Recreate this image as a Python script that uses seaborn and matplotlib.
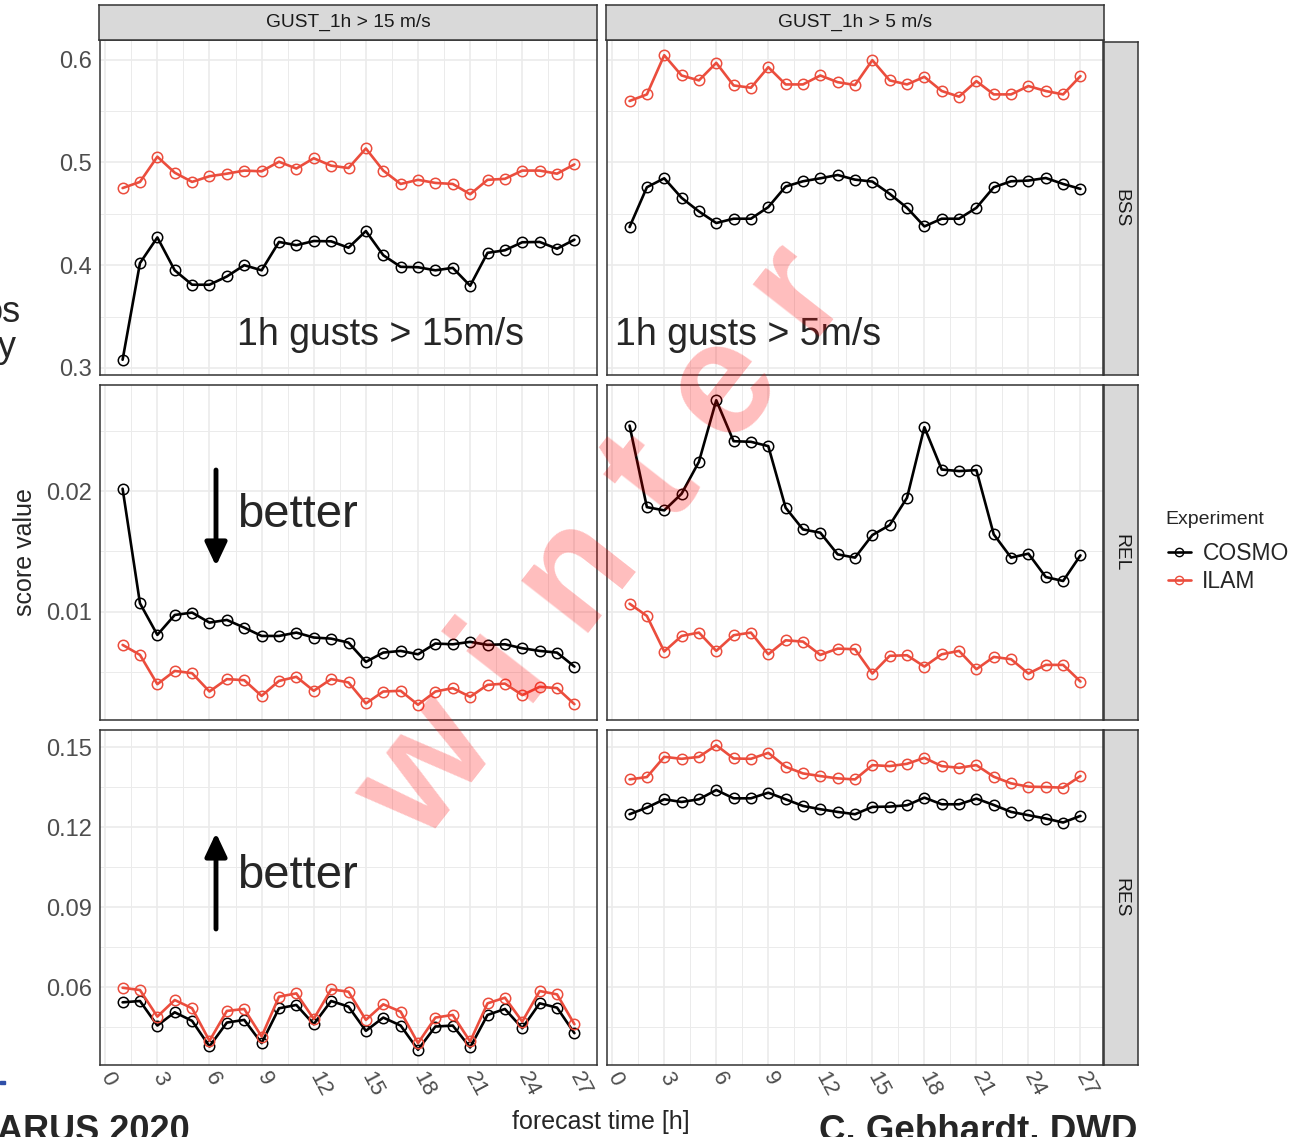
import numpy as np
import pandas as pd
import matplotlib
matplotlib.use("Agg")
import matplotlib.pyplot as plt
from matplotlib.lines import Line2D
from matplotlib.patches import Rectangle, FancyArrowPatch
from matplotlib.ticker import MultipleLocator, FormatStrFormatter
import seaborn as sns

# ===============================
# data
# ===============================
hours = list(range(1, 28))
experiments = ["COSMO", "ILAM"]
thresholds = ["GUST_1h > 15 m/s", "GUST_1h > 5 m/s"]
scores = ["BSS", "REL", "RES"]

bss_15_cosmo = [0.308, 0.402, 0.427, 0.395, 0.381, 0.381, 0.389, 0.400, 0.395, 0.4226,
                0.4194, 0.4235, 0.4232, 0.417, 0.4332, 0.4097, 0.3984, 0.398, 0.395, 0.3974,
                0.380, 0.412, 0.4145, 0.4223, 0.4226, 0.416, 0.4248]
bss_15_ilam = [0.475, 0.481, 0.5055, 0.490, 0.481, 0.4865, 0.489, 0.492, 0.4913, 0.5006,
               0.494, 0.504, 0.4968, 0.4945, 0.5135, 0.492, 0.479, 0.483, 0.480, 0.479,
               0.469, 0.483, 0.484, 0.492, 0.492, 0.489, 0.498]
bss_5_cosmo = [0.4371, 0.4758, 0.4845, 0.4655, 0.4523, 0.441, 0.4452, 0.4452, 0.4565, 0.4765,
               0.4816, 0.4845, 0.4877, 0.4832, 0.4813, 0.4694, 0.4558, 0.4377, 0.4452, 0.4452,
               0.4558, 0.4758, 0.4816, 0.4823, 0.4848, 0.479, 0.4742]
bss_5_ilam = [0.5597, 0.5661, 0.6042, 0.5845, 0.5797, 0.5968, 0.5748, 0.5726, 0.5926, 0.5758,
              0.5758, 0.5845, 0.578, 0.5752, 0.5994, 0.5797, 0.5758, 0.5832, 0.5694, 0.5639,
              0.579, 0.5661, 0.5661, 0.5742, 0.5694, 0.5661, 0.5839]

rel_15_cosmo = [0.0202, 0.01069, 0.00807, 0.00972, 0.00992, 0.00909, 0.00931, 0.00867, 0.00798, 0.00798,
                0.00826, 0.00785, 0.00776, 0.00743, 0.00583, 0.0066, 0.00674, 0.00646, 0.00735, 0.00729,
                0.00749, 0.00724, 0.00729, 0.00696, 0.00674, 0.0066, 0.00544]
rel_15_ilam = [0.00724, 0.00641, 0.00398, 0.00508, 0.00489, 0.00337, 0.0044, 0.00431, 0.00301, 0.00425,
               0.00459, 0.00343, 0.0044, 0.00412, 0.00238, 0.00337, 0.00343, 0.00227, 0.00337, 0.00365,
               0.00293, 0.00392, 0.00403, 0.00307, 0.00376, 0.00365, 0.00232]
rel_5_cosmo = [0.02544, 0.01867, 0.0184, 0.01978, 0.02243, 0.02754, 0.02414, 0.02409, 0.02373, 0.01862,
               0.01682, 0.01655, 0.01475, 0.01448, 0.01635, 0.01718, 0.01945, 0.0253, 0.02179, 0.02166,
               0.02174, 0.01641, 0.01448, 0.01481, 0.01287, 0.01254, 0.01467]
rel_5_ilam = [0.01066, 0.00964, 0.00669, 0.00798, 0.00826, 0.00674, 0.00804, 0.00826, 0.00646, 0.00762,
              0.00751, 0.00641, 0.00693, 0.00688, 0.00486, 0.00633, 0.00638, 0.00544, 0.00646, 0.00674,
              0.00522, 0.00624, 0.00605, 0.00486, 0.00558, 0.00558, 0.0042]

res_15_cosmo = [0.05427, 0.05477, 0.04556, 0.05054, 0.0473, 0.03772, 0.04668, 0.04768, 0.03896, 0.05203,
                0.05328, 0.04606, 0.05477, 0.05266, 0.04357, 0.04855, 0.04556, 0.03647, 0.04519, 0.04556,
                0.03734, 0.04954, 0.05178, 0.04456, 0.0539, 0.05228, 0.0427]
res_15_ilam = [0.05975, 0.05888, 0.04892, 0.05514, 0.05203, 0.03983, 0.05104, 0.05178, 0.04145, 0.05639,
               0.05763, 0.04805, 0.05913, 0.05826, 0.04768, 0.05353, 0.05079, 0.03896, 0.04855, 0.04954,
               0.03958, 0.0539, 0.05602, 0.04705, 0.05851, 0.05726, 0.04606]
res_5_cosmo = [0.12486, 0.12735, 0.13046, 0.12946, 0.13046, 0.13395, 0.13083, 0.13083, 0.13295, 0.13046,
               0.12797, 0.12673, 0.12573, 0.12486, 0.1276, 0.12772, 0.12822, 0.13108, 0.12859, 0.12859,
               0.13071, 0.12834, 0.12573, 0.12449, 0.12324, 0.12175, 0.12424]
res_5_ilam = [0.13793, 0.1388, 0.14639, 0.14565, 0.14639, 0.15075, 0.14577, 0.14565, 0.14789, 0.14266,
              0.14017, 0.13918, 0.1383, 0.13793, 0.14328, 0.14291, 0.14378, 0.14602, 0.14291, 0.14229,
              0.14328, 0.13893, 0.13644, 0.1352, 0.13507, 0.13482, 0.13918]

series = {
    ("BSS", thresholds[0], "COSMO"): bss_15_cosmo,
    ("BSS", thresholds[0], "ILAM"): bss_15_ilam,
    ("BSS", thresholds[1], "COSMO"): bss_5_cosmo,
    ("BSS", thresholds[1], "ILAM"): bss_5_ilam,
    ("REL", thresholds[0], "COSMO"): rel_15_cosmo,
    ("REL", thresholds[0], "ILAM"): rel_15_ilam,
    ("REL", thresholds[1], "COSMO"): rel_5_cosmo,
    ("REL", thresholds[1], "ILAM"): rel_5_ilam,
    ("RES", thresholds[0], "COSMO"): res_15_cosmo,
    ("RES", thresholds[0], "ILAM"): res_15_ilam,
    ("RES", thresholds[1], "COSMO"): res_5_cosmo,
    ("RES", thresholds[1], "ILAM"): res_5_ilam,
}

rows = []
for (score, thr, exp), vals in series.items():
    for h, v in zip(hours, vals):
        rows.append({"score": score, "threshold": thr, "Experiment": exp, "hour": h, "value": v})
df = pd.DataFrame(rows)

# ===============================
# style
# ===============================
sns.set_theme(style="white")
plt.rcParams["font.family"] = ["Liberation Sans", "DejaVu Sans"]

palette = {"COSMO": "black", "ILAM": "#EB4D3D"}
grid_col = "#EBEBEB"
border_col = "#333333"
strip_fill = "#D9D9D9"

W, H = 1292, 1137
fig = plt.figure(figsize=(W / 100, H / 100), dpi=100)


def box(x0, y0, x1, y1):
    return [x0 / W, 1 - y1 / H, (x1 - x0) / W, (y1 - y0) / H]


col_x = [(100, 597), (607, 1103)]
row_y = [(40, 375), (385, 720), (730, 1065)]
major_step = {"BSS": 0.1, "REL": 0.01, "RES": 0.03}
label_fmt = {"BSS": "%.1f", "REL": "%.2f", "RES": "%.2f"}

# x limits with ggplot-like 5% expansion
x_pad = 0.05 * (max(hours) - min(hours))
x_lim = (min(hours) - x_pad, max(hours) + x_pad)

# ===============================
# facet panels
# ===============================
for i, score in enumerate(scores):
    row_vals = df.loc[df["score"] == score, "value"]
    pad = 0.05 * (row_vals.max() - row_vals.min())
    y_lim = (row_vals.min() - pad, row_vals.max() + pad)
    for j, thr in enumerate(thresholds):
        ax = fig.add_axes(box(col_x[j][0], row_y[i][0], col_x[j][1], row_y[i][1]))
        sub = df[(df["score"] == score) & (df["threshold"] == thr)]
        sns.lineplot(data=sub, x="hour", y="value", hue="Experiment", hue_order=experiments,
                     palette=palette, marker="o", markersize=7.5, linewidth=1.9,
                     errorbar=None, legend=False, ax=ax)
        for line in ax.lines:
            line.set_markeredgecolor(line.get_color())
            line.set_markerfacecolor("none")
            line.set_markeredgewidth(1.1)

        ax.set_xlim(x_lim)
        ax.set_ylim(y_lim)
        ax.xaxis.set_major_locator(MultipleLocator(3))
        ax.xaxis.set_minor_locator(MultipleLocator(1.5))
        ax.yaxis.set_major_locator(MultipleLocator(major_step[score]))
        ax.yaxis.set_minor_locator(MultipleLocator(major_step[score] / 2))
        ax.yaxis.set_major_formatter(FormatStrFormatter(label_fmt[score]))
        ax.grid(which="major", color=grid_col, lw=1.2)
        ax.grid(which="minor", color=grid_col, lw=0.7)
        ax.set_axisbelow(True)
        for sp in ax.spines.values():
            sp.set_color(border_col)
            sp.set_linewidth(1.1)
        ax.set_xlabel("")
        ax.set_ylabel("")
        ax.tick_params(which="minor", length=0)
        ax.tick_params(which="major", length=4, width=1, color=border_col,
                       labelsize=17, labelcolor="#4D4D4D", pad=2)
        if j == 1:
            ax.tick_params(axis="y", left=False, labelleft=False)
        if i < 2:
            ax.tick_params(axis="x", bottom=False, labelbottom=False)
        else:
            ax.tick_params(axis="x", labelsize=16)
            for lab in ax.get_xticklabels():
                lab.set_rotation(-62)
                lab.set_ha("left")
                lab.set_va("center")
                lab.set_rotation_mode("anchor")

# facet strips
top_strips = [(99, 5, 597, 40), (606, 5, 1104, 40)]
for (x0, y0, x1, y1), thr in zip(top_strips, thresholds):
    sax = fig.add_axes(box(x0, y0, x1, y1))
    sax.set_facecolor(strip_fill)
    sax.set_xticks([])
    sax.set_yticks([])
    for sp in sax.spines.values():
        sp.set_color(border_col)
        sp.set_linewidth(1.1)
    sax.text(0.5, 0.5, thr, ha="center", va="center", fontsize=13.8, color="#1A1A1A",
             transform=sax.transAxes)

for i, score in enumerate(scores):
    y0 = row_y[i][0] + (2 if i == 0 else 0)
    sax = fig.add_axes(box(1104, y0, 1138, row_y[i][1]))
    sax.set_facecolor(strip_fill)
    sax.set_xticks([])
    sax.set_yticks([])
    for sp in sax.spines.values():
        sp.set_color(border_col)
        sp.set_linewidth(1.1)
    sax.text(0.5, 0.5, score, ha="center", va="center", rotation=-90, fontsize=13.8,
             color="#1A1A1A", transform=sax.transAxes)

# axis titles
fig.text(25 / W, 1 - 552 / H, "score value", rotation=90, ha="center", va="center", fontsize=18)
fig.text(601 / W, 1 - 1122 / H, "forecast time [h]", ha="center", va="center", fontsize=18)

# legend
fig.text(1165 / W, 1 - 520 / H, "Experiment", fontsize=14, ha="left", va="center")
handles = [Line2D([], [], color=palette[e], lw=1.9, marker="o", markersize=6,
                  markerfacecolor="none", markeredgecolor=palette[e]) for e in experiments]
fig.legend(handles, experiments, loc="upper left", bbox_to_anchor=(1168 / W, 1 - 542 / H),
           frameon=False, fontsize=16.5, handlelength=1.0, handletextpad=0.5,
           labelspacing=0.2, borderpad=0.0, borderaxespad=0.0)

# ===============================
# slide annotations on top of the chart
# ===============================
fig.text(237 / W, 1 - 345 / H, "1h gusts > 15m/s", fontsize=27, va="baseline")
fig.text(615 / W, 1 - 345 / H, "1h gusts > 5m/s", fontsize=27, va="baseline")
fig.text(237 / W, 1 - 527 / H, "better", fontsize=34, va="baseline")
fig.text(237 / W, 1 - 888 / H, "better", fontsize=34, va="baseline")
arrow_kw = dict(arrowstyle="-|>,head_length=0.7,head_width=0.33", lw=3.5, color="black",
                shrinkA=0, shrinkB=0, mutation_scale=20)
fig.add_artist(FancyArrowPatch((216 / W, 1 - 470 / H), (216 / W, 1 - 566 / H),
                               transform=fig.transFigure, **arrow_kw))
fig.add_artist(FancyArrowPatch((216 / W, 1 - 929 / H), (216 / W, 1 - 833 / H),
                               transform=fig.transFigure, **arrow_kw))

# cut-off slide text at the edges
fig.text(21 / W, 1 - 322 / H, "os", fontsize=26, ha="right", va="baseline")
fig.text(16 / W, 1 - 357 / H, "y", fontsize=26, ha="right", va="baseline")
fig.text(-3 / W, 1 - 1141 / H, "ARUS 2020", fontsize=26, fontweight="bold", va="baseline")
fig.text(819 / W, 1 - 1141 / H, "C. Gebhardt, DWD", fontsize=26.5, fontweight="bold", va="baseline")
fig.add_artist(Rectangle((0, 1 - 1084 / H), 5 / W, 3 / H, transform=fig.transFigure,
                         color="#2F4FA8"))

# watermark
fig.text(605 / W, 1 - 545 / H, "w i n t e r", fontsize=116, fontweight="bold", color="red",
         alpha=0.26, rotation=52, ha="center", va="center", zorder=20)

fig.savefig("out.png", dpi=100)
